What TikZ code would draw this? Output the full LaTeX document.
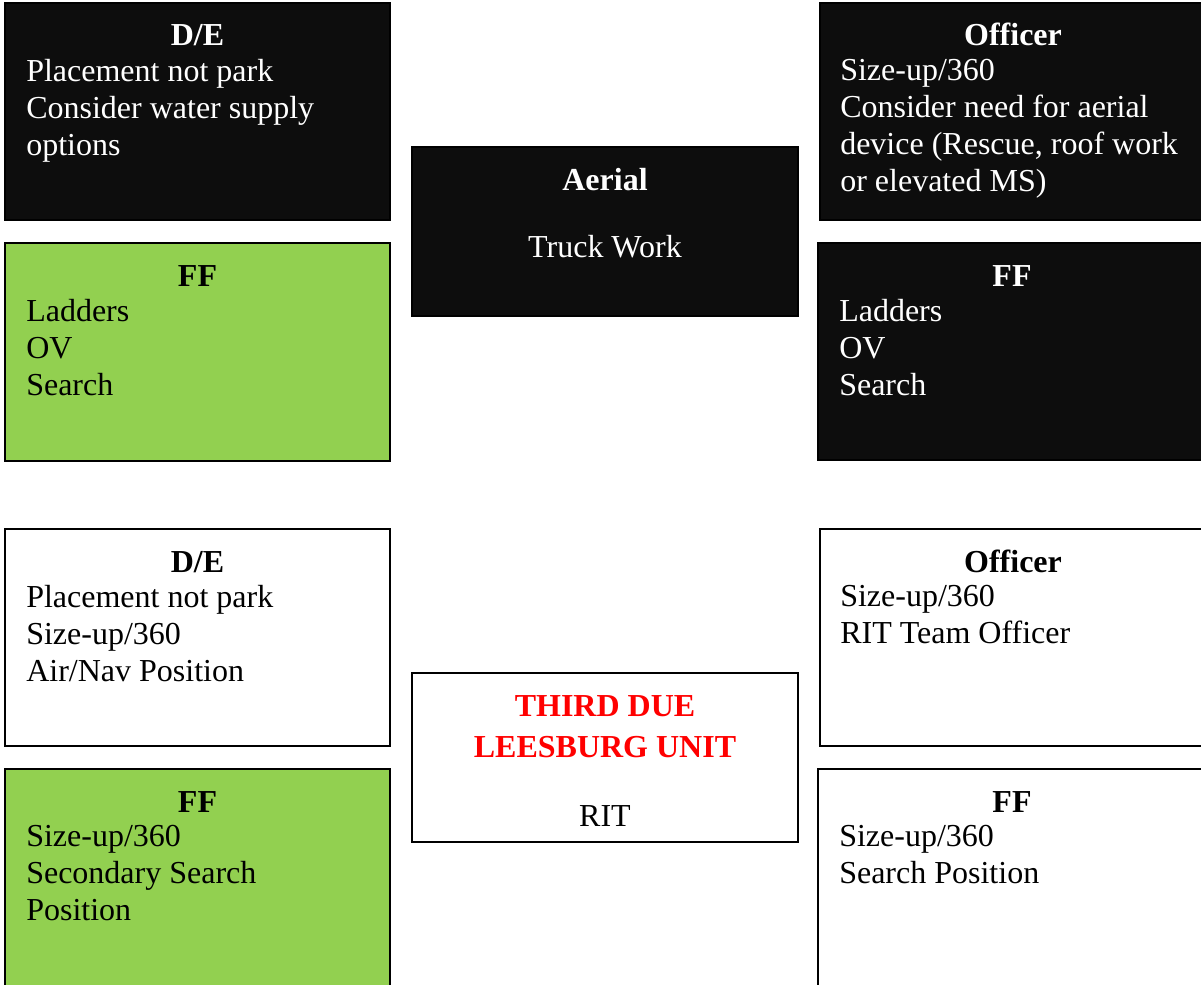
\documentclass[tikz,border=0pt]{standalone}
\usepackage{fontspec}
\setmainfont{Liberation Serif}
\definecolor{boxblack}{HTML}{0D0D0D}
\definecolor{boxgreen}{HTML}{92D050}
\definecolor{boxwhite}{HTML}{FFFFFF}
\begin{document}
\begin{tikzpicture}[x=0.75pt,y=-0.75pt,
    box/.style={draw=black,line width=1.5pt,inner sep=0pt},
    head/.style={anchor=base,inner sep=0pt,font=\fontsize{24}{27.75}\selectfont\bfseries},
    mid/.style={anchor=base,inner sep=0pt,font=\fontsize{24}{27.75}\selectfont},
    body/.style={anchor=north west,align=left,inner sep=0pt,
        font=\fontsize{24}{27.75}\selectfont,execute at begin node=\strut}]
\useasboundingbox (0,0) rectangle (1201,984);
\clip (0,0) rectangle (1201,984);

% boxes: name / centre x / centre y / width / height / fill
\foreach \name/\cx/\cy/\w/\h/\fc in {
    de1/197.5/111.5/385/217/boxblack,
    ff1/197.5/352/385/218/boxgreen,
    aer/605/231.5/386/169/boxblack,
    off1/1013/111.5/386/217/boxblack,
    ff2/1012/351.5/388/217/boxblack,
    de2/197.5/637.5/385/217/boxwhite,
    ff3/197.5/878/385/218/boxgreen,
    third/605/757.5/386/169/boxwhite,
    off2/1013/637.5/386/217/boxwhite,
    ff4/1012/878/388/218/boxwhite} {
    \node[box,fill=\fc,minimum width=\w*0.75pt,minimum height=\h*0.75pt] (\name) at (\cx,\cy) {};
}

% first due
\node[head,white] (de1h) at ([yshift=-33pt]de1.north) {D/E};
\node[body,white] (de1t) at ([xshift=16.5pt,yshift=-42.8pt]de1.north west)
    {Placement not park\\Consider water supply\\options};
\node[head] (ff1h) at ([yshift=-33pt]ff1.north) {FF};
\node[body] (ff1t) at ([xshift=16.5pt,yshift=-42.8pt]ff1.north west)
    {Ladders\\OV\\Search};

\node[head,white] (aerh) at ([yshift=-33.75pt]aer.north) {Aerial};
\node[mid,white] (aert) at ([yshift=-83.25pt]aer.north) {Truck Work};

\node[head,white] (off1h) at ([yshift=-33pt]off1.north) {Officer};
\node[body,white] (off1t) at ([xshift=15.75pt,yshift=-42.8pt]off1.north west)
    {Size-up/360\\Consider need for aerial\\device (Rescue, roof work\\or elevated MS)};
\node[head,white] (ff2h) at ([yshift=-33pt]ff2.north) {FF};
\node[body,white] (ff2t) at ([xshift=16.5pt,yshift=-42.8pt]ff2.north west)
    {Ladders\\OV\\Search};

% third due
\node[head] (de2h) at ([yshift=-33pt]de2.north) {D/E};
\node[body] (de2t) at ([xshift=16.5pt,yshift=-42.8pt]de2.north west)
    {Placement not park\\Size-up/360\\Air/Nav Position};
\node[head] (ff3h) at ([yshift=-33pt]ff3.north) {FF};
\node[body] (ff3t) at ([xshift=16.5pt,yshift=-42.8pt]ff3.north west)
    {Size-up/360\\Secondary Search\\Position};

\node[head,red] (third1) at ([yshift=-33pt]third.north) {THIRD DUE};
\node[head,red] (third2) at ([yshift=-64pt]third.north) {LEESBURG UNIT};
\node[mid] (rit) at ([yshift=-116pt]third.north) {RIT};

\node[head] (off2h) at ([yshift=-33pt]off2.north) {Officer};
\node[body] (off2t) at ([xshift=15.75pt,yshift=-42.8pt]off2.north west)
    {Size-up/360\\RIT Team Officer};
\node[head] (ff4h) at ([yshift=-33pt]ff4.north) {FF};
\node[body] (ff4t) at ([xshift=16.5pt,yshift=-42.8pt]ff4.north west)
    {Size-up/360\\Search Position};

\end{tikzpicture}
\end{document}
